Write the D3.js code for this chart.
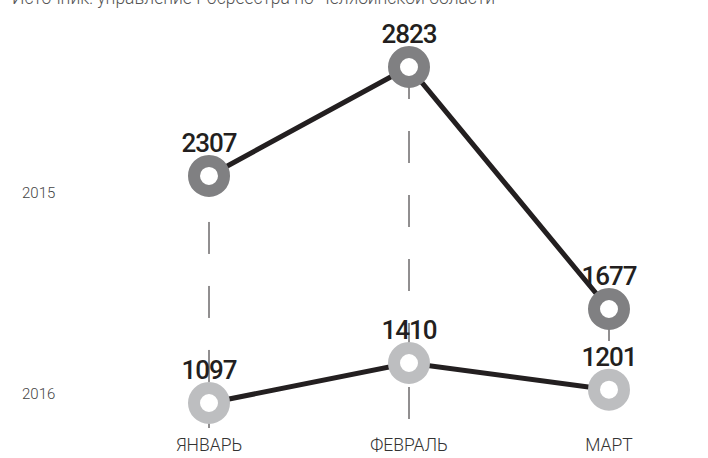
<!DOCTYPE html>
<html>
<head>
<meta charset="utf-8">
<script src="https://cdn.jsdelivr.net/npm/d3@7"></script>
<style>
  html, body { margin: 0; padding: 0; background: #fff; }
  svg { display: block; }
</style>
</head>
<body>
<svg id="chart" width="708" height="458"></svg>
<script>
// ---- data ----
const categories = ["ЯНВАРЬ", "ФЕВРАЛЬ", "МАРТ"];
const years = ["2015", "2016"];
const values2015 = [2307, 2823, 1677];
const values2016 = [1097, 1410, 1201];
const sourceText = "Источник: управление Росреестра по Челябинской области";

// ---- layout / style ----
const W = 708, H = 458;
const svg = d3.select("#chart");
const colors = { "2015": "#808082", "2016": "#bdbec0" };
const lineColor = "#231f20";
const guideBottom = 428;
const dashOffsets = [18, 0, 0];

const x = d3.scalePoint().domain(categories).range([209, 609]);
// each series has its own vertical scale (as in the original)
const y2015 = d3.scaleLinear().domain([1677, 2823]).range([309, 67]);
const y2016 = d3.scaleLinear().domain([1097, 1410]).range([403, 363]);

const series = [
  { year: "2015", values: values2015, y: y2015 },
  { year: "2016", values: values2016, y: y2016 }
];

// source line (cut at top, as in the original)
svg.append("text")
  .attr("x", 12).attr("y", 4)
  .attr("font-family", "Roboto, sans-serif")
  .attr("font-weight", 300)
  .attr("font-size", 17.5)
  .attr("fill", "#555")
  .text(sourceText);

// row labels
const rowLabelY = { "2015": 198, "2016": 399 };
svg.selectAll("text.row").data(years).enter().append("text")
  .attr("class", "row")
  .attr("x", 22).attr("y", d => rowLabelY[d])
  .attr("font-family", "Roboto, sans-serif")
  .attr("font-weight", 300)
  .attr("font-size", 15)
  .attr("fill", "#444")
  .text(d => d);

// value labels
series.forEach(s => {
  svg.selectAll(null).data(s.values).enter().append("text")
    .attr("x", (d, i) => x(categories[i]))
    .attr("y", d => s.y(d) - 24)
    .attr("text-anchor", "middle")
    .attr("font-family", "Roboto, sans-serif")
    .attr("font-weight", 500)
    .attr("font-size", 26)
    .attr("letter-spacing", -1)
    .attr("fill", "#231f20")
    .text(d => d);
});

// category labels
svg.selectAll("text.cat").data(categories).enter().append("text")
  .attr("class", "cat")
  .attr("x", d => x(d))
  .attr("y", 451)
  .attr("text-anchor", "middle")
  .attr("font-family", "Roboto, sans-serif")
  .attr("font-weight", 300)
  .attr("font-size", 17.5)
  .attr("fill", "#333")
  .text(d => d);

// vertical guide lines
svg.selectAll("line.guide").data(categories).enter().append("line")
  .attr("class", "guide")
  .attr("x1", d => x(d)).attr("x2", d => x(d))
  .attr("y1", (d, i) => y2015(values2015[i]))
  .attr("y2", guideBottom)
  .attr("stroke", lineColor)
  .attr("stroke-width", 1)
  .attr("stroke-dasharray", "32,32")
  .attr("stroke-dashoffset", (d, i) => dashOffsets[i]);

// series lines
const line = s => d3.line()
  .x((d, i) => x(categories[i]))
  .y(d => s.y(d));

series.forEach(s => {
  svg.append("path")
    .datum(s.values)
    .attr("d", line(s))
    .attr("fill", "none")
    .attr("stroke", lineColor)
    .attr("stroke-width", 5);
});

// ring markers
series.forEach(s => {
  svg.selectAll(null).data(s.values).enter().append("circle")
    .attr("cx", (d, i) => x(categories[i]))
    .attr("cy", d => s.y(d))
    .attr("r", 15)
    .attr("fill", "#fff")
    .attr("stroke", colors[s.year])
    .attr("stroke-width", 12);
});
</script>
</body>
</html>
